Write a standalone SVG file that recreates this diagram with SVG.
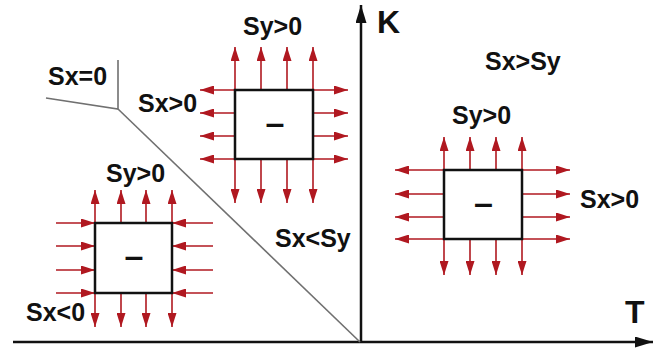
<svg xmlns="http://www.w3.org/2000/svg" width="655" height="349" viewBox="0 0 655 349">
<style>
text{font-family:"Liberation Sans",Arial,sans-serif;font-weight:bold;fill:#111}
.lab{font-size:25px}
.ax{font-size:32px}
.ar{stroke:#b01820;stroke-width:1.6;fill:none;marker-end:url(#rh)}
.box{fill:#fff;stroke:#111;stroke-width:2.5}
.axis{stroke:#111;stroke-width:2.5;fill:none}
.bnd{stroke:#707070;stroke-width:1.6;fill:none}
.minus{font-size:34px;text-anchor:middle}
</style>
<defs>
<marker id="rh" markerUnits="userSpaceOnUse" markerWidth="14" markerHeight="9" refX="14" refY="4.5" orient="auto">
<path d="M0,0 L14,4.5 L0,9 z" fill="#b01820"/>
</marker>
<marker id="ah" markerUnits="userSpaceOnUse" markerWidth="18" markerHeight="11" refX="18" refY="5.5" orient="auto">
<path d="M0,0 L18,5.5 L0,11 z" fill="#111"/>
</marker>
</defs>
<g id="connectors">
<line class="axis" x1="13" y1="342" x2="653" y2="342" marker-end="url(#ah)"/>
<line class="axis" x1="361" y1="342" x2="361" y2="5" marker-end="url(#ah)"/>
<polyline class="bnd" points="46,98 118,109 118,60"/>
<line class="bnd" x1="118" y1="109" x2="360" y2="342"/>
</g>
<g id="box-top">
<g>
<line class="ar" x1="235" y1="90" x2="235" y2="47"/>
<line class="ar" x1="261" y1="90" x2="261" y2="47"/>
<line class="ar" x1="287" y1="90" x2="287" y2="47"/>
<line class="ar" x1="313" y1="90" x2="313" y2="47"/>
<line class="ar" x1="235" y1="159" x2="235" y2="203"/>
<line class="ar" x1="261" y1="159" x2="261" y2="203"/>
<line class="ar" x1="287" y1="159" x2="287" y2="203"/>
<line class="ar" x1="313" y1="159" x2="313" y2="203"/>
<line class="ar" x1="235" y1="90" x2="200" y2="90"/>
<line class="ar" x1="235" y1="113" x2="200" y2="113"/>
<line class="ar" x1="235" y1="136" x2="200" y2="136"/>
<line class="ar" x1="235" y1="159" x2="200" y2="159"/>
<line class="ar" x1="313" y1="90" x2="348" y2="90"/>
<line class="ar" x1="313" y1="113" x2="348" y2="113"/>
<line class="ar" x1="313" y1="136" x2="348" y2="136"/>
<line class="ar" x1="313" y1="159" x2="348" y2="159"/>
</g>
<rect class="box" x="235" y="90" width="78" height="69"/>
<text class="minus" x="275" y="134">–</text>
</g>
<g id="box-left">
<g>
<line class="ar" x1="95" y1="223" x2="95" y2="190"/>
<line class="ar" x1="121" y1="223" x2="121" y2="190"/>
<line class="ar" x1="146" y1="223" x2="146" y2="190"/>
<line class="ar" x1="172" y1="223" x2="172" y2="190"/>
<line class="ar" x1="95" y1="293" x2="95" y2="327"/>
<line class="ar" x1="121" y1="293" x2="121" y2="327"/>
<line class="ar" x1="146" y1="293" x2="146" y2="327"/>
<line class="ar" x1="172" y1="293" x2="172" y2="327"/>
<line class="ar" x1="56" y1="223" x2="95" y2="223"/>
<line class="ar" x1="56" y1="246" x2="95" y2="246"/>
<line class="ar" x1="56" y1="270" x2="95" y2="270"/>
<line class="ar" x1="56" y1="293" x2="95" y2="293"/>
<line class="ar" x1="213" y1="223" x2="172" y2="223"/>
<line class="ar" x1="213" y1="246" x2="172" y2="246"/>
<line class="ar" x1="213" y1="270" x2="172" y2="270"/>
<line class="ar" x1="213" y1="293" x2="172" y2="293"/>
</g>
<rect class="box" x="95" y="223" width="77" height="70"/>
<text class="minus" x="134" y="267">–</text>
</g>
<g id="box-right">
<g>
<line class="ar" x1="444" y1="170" x2="444" y2="137"/>
<line class="ar" x1="470" y1="170" x2="470" y2="137"/>
<line class="ar" x1="496" y1="170" x2="496" y2="137"/>
<line class="ar" x1="522" y1="170" x2="522" y2="137"/>
<line class="ar" x1="444" y1="239" x2="444" y2="275"/>
<line class="ar" x1="470" y1="239" x2="470" y2="275"/>
<line class="ar" x1="496" y1="239" x2="496" y2="275"/>
<line class="ar" x1="522" y1="239" x2="522" y2="275"/>
<line class="ar" x1="444" y1="170" x2="395" y2="170"/>
<line class="ar" x1="444" y1="194" x2="395" y2="194"/>
<line class="ar" x1="444" y1="217" x2="395" y2="217"/>
<line class="ar" x1="444" y1="239" x2="395" y2="239"/>
<line class="ar" x1="522" y1="170" x2="570" y2="170"/>
<line class="ar" x1="522" y1="194" x2="570" y2="194"/>
<line class="ar" x1="522" y1="217" x2="570" y2="217"/>
<line class="ar" x1="522" y1="239" x2="570" y2="239"/>
</g>
<rect class="box" x="444" y="170" width="78" height="69"/>
<text class="minus" x="483.5" y="214">–</text>
</g>
<g id="labels">
<text class="lab" x="48" y="85">Sx=0</text>
<text class="lab" x="138" y="112">Sx&gt;0</text>
<text class="lab" x="243" y="35">Sy&gt;0</text>
<text class="lab" x="106" y="182">Sy&gt;0</text>
<text class="lab" x="26" y="321">Sx&lt;0</text>
<text class="lab" x="275" y="247">Sx&lt;Sy</text>
<text class="lab" x="485" y="70">Sx&gt;Sy</text>
<text class="lab" x="452" y="124">Sy&gt;0</text>
<text class="lab" x="580" y="208">Sx&gt;0</text>
<text class="ax" x="377" y="33">K</text>
<text class="ax" x="625" y="323">T</text>
</g>
</svg>
